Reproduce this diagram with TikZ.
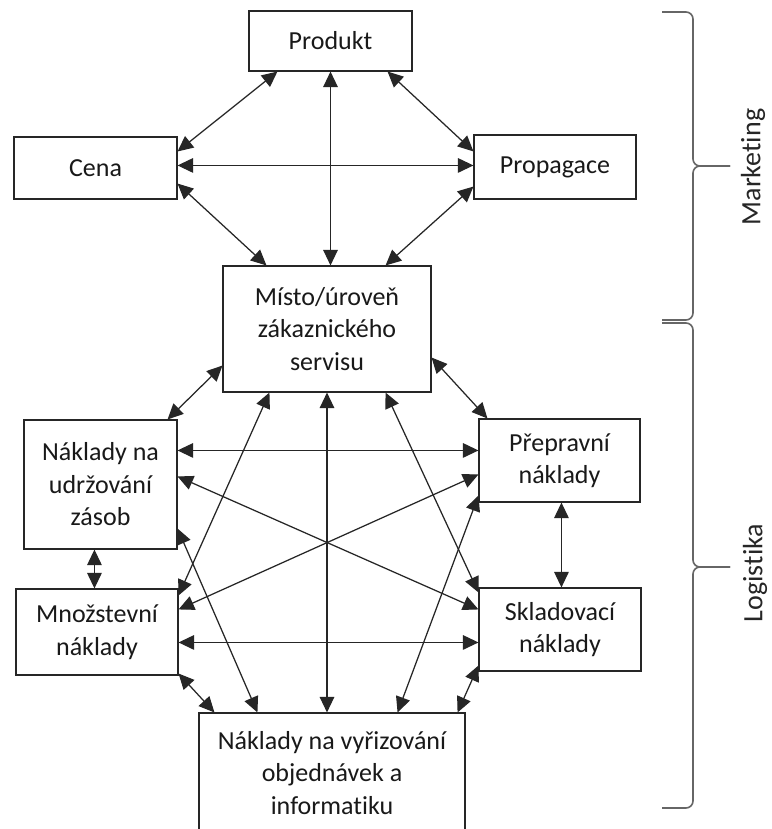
\documentclass[tikz,border=0pt]{standalone}
\usepackage{fontspec}
\setmainfont{Carlito}[Ligatures=NoCommon]
\usetikzlibrary{arrows.meta,calc}
\begin{document}
\begin{tikzpicture}[x=1pt,y=-1pt,
  box/.style={draw=black!85,line width=1.1pt,rectangle,align=center,inner sep=0pt,
    font=\fontsize{26}{32.5}\selectfont,text=black!90},
  tip/.tip={Triangle[length=15.5pt,width=14.5pt]},
  link/.style={tip-tip,line width=1.25pt,draw=black!85},
  brace/.style={draw=black!60,line width=1.6pt,rounded corners=7pt},
  side/.style={font=\fontsize{28}{34}\selectfont,text=black!85,rotate=90}]
\clip (0,0) rectangle (771,829);
\fill[white] (0,0) rectangle (771,829);
% boxes
\node[box,minimum width=163,minimum height=60] (prod) at (330.5,41) {Produkt};
\node[box,minimum width=163,minimum height=62] (cena) at (95.5,168) {Cena};
\node[box,minimum width=162,minimum height=64] (prop) at (555,167) {Propagace};
\node[box,minimum width=208,minimum height=126] (misto) at (327,329) {Místo/úroveň\\zákaznického\\servisu};
\node[box,minimum width=153,minimum height=129] (udrz) at (100.5,484.5) {Náklady na\\udržování\\zásob};
\node[box,minimum width=161,minimum height=83] (prep) at (559.5,460.5) {Přepravní\\náklady};
\node[box,minimum width=162,minimum height=86] (mnoz) at (97,632) {Množstevní\\náklady};
\node[box,minimum width=162,minimum height=83] (sklad) at (560,629.5) {Skladovací\\náklady};
\node[box,minimum width=266,minimum height=120] (vyr) at (332,773) {Náklady na vyřizování\\objednávek a\\informatiku};
% marketing links
\draw[link] ($(prod.south west)+(29,0)$) -- ($(cena.north east)+(0,15)$);
\draw[link] (prod.south) -- (prod.south |- misto.north);
\draw[link] ($(prod.south east)+(-25,0)$) -- ($(prop.north west)+(0,17)$);
\draw[link] ($(cena.north east)+(0,29)$) coordinate (c1) -- (c1 -| prop.west);
\draw[link] ($(cena.south east)+(0,-16)$) -- ($(misto.north west)+(44,0)$);
\draw[link] ($(prop.south west)+(0,-13)$) -- ($(misto.north east)+(-46,0)$);
% logistics links
\draw[link] ($(misto.south west)+(0,-27)$) -- ($(udrz.north east)+(-10,0)$);
\draw[link] ($(misto.south east)+(0,-35)$) -- ($(prep.north west)+(9,0)$);
\draw[link] ($(misto.south west)+(47,0)$) -- ($(mnoz.north east)+(0,7)$);
\draw[link] (misto.south) -- (misto.south |- vyr.north);
\draw[link] ($(misto.south east)+(-46,0)$) -- ($(sklad.north west)+(0,5)$);
\draw[link] ($(udrz.north east)+(0,31)$) coordinate (u1) -- (u1 -| prep.west);
\draw[link] ($(udrz.north east)+(0,57)$) -- ($(sklad.north west)+(0,22)$);
\draw[link] ($(mnoz.north east)+(0,21)$) -- ($(prep.north west)+(0,56)$);
\draw[link] ($(udrz.south west)+(71,0)$) coordinate (u2) -- (u2 |- mnoz.north);
\draw[link] ($(udrz.south east)+(0,-21)$) -- ($(vyr.north west)+(59,0)$);
\draw[link] ($(prep.south west)+(83,0)$) coordinate (p1) -- (p1 |- sklad.north);
\draw[link] ($(prep.south west)+(0,-7)$) -- ($(vyr.north east)+(-68,0)$);
\draw[link] ($(mnoz.north east)+(0,54)$) coordinate (m1) -- (m1 -| sklad.west);
\draw[link] ($(mnoz.south east)+(0,-2)$) -- ($(vyr.north west)+(16,0)$);
\draw[link] ($(sklad.south west)+(0,-6)$) -- ($(vyr.north east)+(-8,0)$);
% braces
\draw[brace] (662,12) -- (693,12) -- (693,166) -- (730,166);
\draw[brace] (662,320) -- (693,320) -- (693,166) -- (730,166);
\draw[brace] (662,323) -- (693,323) -- (693,567) -- (730,567);
\draw[brace] (662,808) -- (693,808) -- (693,567) -- (730,567);
\node[side] (mkt) at (753,167) {Marketing};
\node[side] (log) at (755,573) {Logistika};
\end{tikzpicture}
\end{document}
